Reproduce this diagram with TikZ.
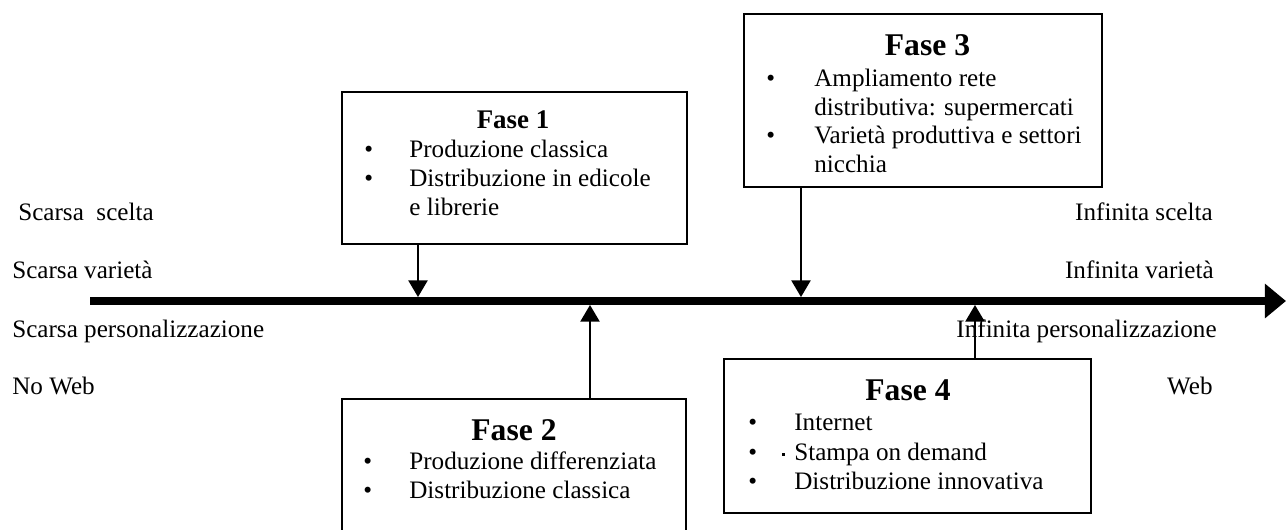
\documentclass[tikz,border=0pt]{standalone}
\usepackage{fontspec}
\setmainfont{Liberation Serif}
\usepackage{tikz}
\usetikzlibrary{positioning,calc,arrows.meta}

\begin{document}
\begin{tikzpicture}[x=0.02cm,y=-0.02cm,
    box/.style={draw,line width=0.85pt,inner sep=0pt},
    txt/.style={anchor=base west,inner sep=0pt,font=\fontsize{14.3}{16}\selectfont},
    rtxt/.style={anchor=base east,inner sep=0pt,font=\fontsize{14.3}{16}\selectfont},
    title/.style={anchor=base,inner sep=0pt,font=\bfseries\fontsize{18}{20}\selectfont},
    link/.style={line width=0.85pt,-{Triangle[length=9.5pt,width=11pt]}}]
  \useasboundingbox (0,0) rectangle (1286,529);
  \clip (0,0) rectangle (1286,529);
  % axis
  \coordinate (start) at (90,301);
  \coordinate (end) at (1286,301);
  \draw[line width=4.5pt,-{Triangle[length=12pt,width=19pt]}] (start) -- (end);
  % boxes
  \node[box,minimum width=6.9cm,minimum height=3.04cm] (f1) at (514.5,168) {};
  \node[box,minimum width=6.88cm,minimum height=2.92cm] (f2) at (514,472) {};
  \node[box,minimum width=7.16cm,minimum height=3.46cm] (f3) at (923,100.5) {};
  \node[box,minimum width=7.34cm,minimum height=3.08cm] (f4) at (907.5,436) {};
  % titles
  \node[title,font=\bfseries\fontsize{15.3}{17}\selectfont] (t1) at (513,128) {Fase 1};
  \node[title] (t2) at (514,440) {Fase 2};
  \node[title] (t3) at (927.5,55) {Fase 3};
  \node[title] (t4) at (908,400) {Fase 4};
  % bullets
  \foreach \x/\y [count=\i] in {364/157, 364/186, 363/469, 363/498, 766/86,
      766/143, 748/430, 748/460, 748/489}
    \node[txt] (b\i) at (\x,\y) {•};
  % items
  \node[txt] (f1a) at (409,157) {Produzione classica};
  \node[txt] (f1b) at (409,186) {Distribuzione in edicole};
  \node[txt] (f1c) at (409,215) {e librerie};
  \node[txt] (f2a) at (409,469) {Produzione differenziata};
  \node[txt] (f2b) at (409,498) {Distribuzione classica};
  \node[txt] (f3a) at (814,86) {Ampliamento rete};
  \node[txt] (f3b) at (814,115) {distributiva: supermercati};
  \node[txt] (f3c) at (814,143) {Varietà produttiva e settori};
  \node[txt] (f3d) at (814,172) {nicchia};
  \node[txt] (f4a) at (794,430) {Internet};
  \node[txt] (f4b) at (794,460) {Stampa on demand};
  \node[txt] (f4c) at (794,489) {Distribuzione innovativa};
  \fill (782,453) rectangle ++(2.5,2.5);
  % side labels
  \node[txt] (l1) at (18,220) {Scarsa\ \ scelta};
  \node[txt] (l2) at (12,278) {Scarsa varietà};
  \node[txt] (l3) at (12,337) {Scarsa personalizzazione};
  \node[txt] (l4) at (12,394) {No Web};
  \node[rtxt] (r1) at (1213,220) {Infinita scelta};
  \node[rtxt] (r2) at (1214,278) {Infinita varietà};
  \node[rtxt] (r3) at (1217,337) {Infinita personalizzazione};
  \node[rtxt] (r4) at (1213,394) {Web};
  % arrows to the axis
  \coordinate (p1) at (418,297);
  \coordinate (p2) at (590,305);
  \coordinate (p3) at (801,297);
  \coordinate (p4) at (975,305);
  \draw[link] (f1.south -| p1) -- (p1);
  \draw[link] (f2.north -| p2) -- (p2);
  \draw[link] (f3.south -| p3) -- (p3);
  \draw[link] (f4.north -| p4) -- (p4);
\end{tikzpicture}
\end{document}
